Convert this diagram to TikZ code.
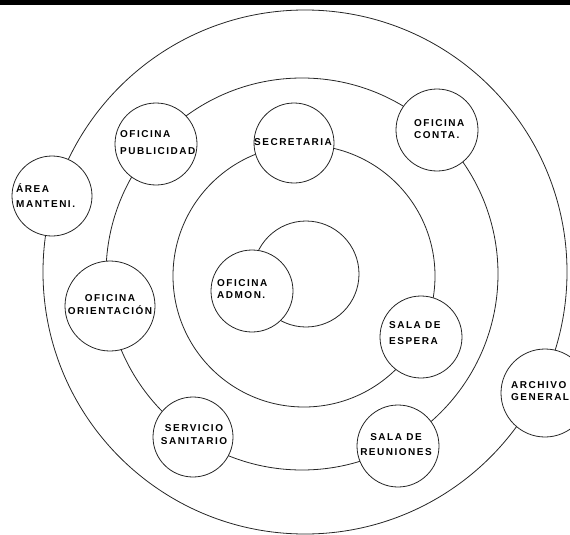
\documentclass[tikz,border=0pt]{standalone}
\usepackage{fontspec}
\newfontfamily\labfont{Liberation Sans}[LetterSpace=15]
\begin{document}
\begin{tikzpicture}[x=1pt,y=-1pt,
  ring/.style={draw=black!85, line width=0.8pt},
  room/.style={circle, draw=black!85, line width=0.8pt, fill=white, inner sep=0pt},
  lab/.style={font=\labfont\bfseries\fontsize{10}{12}\selectfont, inner sep=0pt, align=left, anchor=west},
  labc/.style={font=\labfont\bfseries\fontsize{10}{12}\selectfont, inner sep=0pt, align=center}]
\useasboundingbox (0,0) rectangle (570,535);
\clip (0,0) rectangle (570,535);
\fill[black] (0,0) rectangle (570,5);
% rings
\draw[ring] (305,272) circle (262);
\draw[ring] (302,274) circle (196);
\draw[ring] (304,276) circle (131);
\node[room, minimum size=106pt] (core) at (306,274) {};
% rooms
\node[room, minimum size=80pt] (area) at (52,196) {};
\node[room, minimum size=82pt] (pub) at (156,144) {};
\node[room, minimum size=80pt] (sec) at (294,143) {};
\node[room, minimum size=82pt] (conta) at (437,130) {};
\node[room, minimum size=90pt] (orient) at (110,306) {};
\node[room, minimum size=82pt] (admon) at (252,291) {};
\node[room, minimum size=82pt] (espera) at (421,337) {};
\node[room, minimum size=88pt] (archivo) at (545,393) {};
\node[room, minimum size=80pt] (serv) at (193,437) {};
\node[room, minimum size=82pt] (reun) at (398,446) {};
% labels
\node[lab] (tarea) at (16,196) {ÁREA\\[3pt]MANTENI.};
\node[lab] (tpub) at (120,142.5) {OFICINA\\[5pt]PUBLICIDAD};
\node[lab] (tsec) at (254,142) {SECRETARIA};
\node[lab] (tconta) at (414,129) {OFICINA\\CONTA.};
\node[labc] (torient) at (110,304.5) {OFICINA\\[1pt]ORIENTACIÓN};
\node[lab] (tadmon) at (217,289) {OFICINA\\ADMON.};
\node[lab] (tespera) at (389,333) {SALA DE\\[4pt]ESPERA};
\node[lab] (tarchivo) at (511,391) {ARCHIVO\\GENERAL};
\node[labc] (tserv) at (194,434.5) {SERVICIO\\[1pt]SANITARIO};
\node[labc] (treun) at (396,444.5) {SALA DE\\[3pt]REUNIONES};
\end{tikzpicture}
\end{document}
